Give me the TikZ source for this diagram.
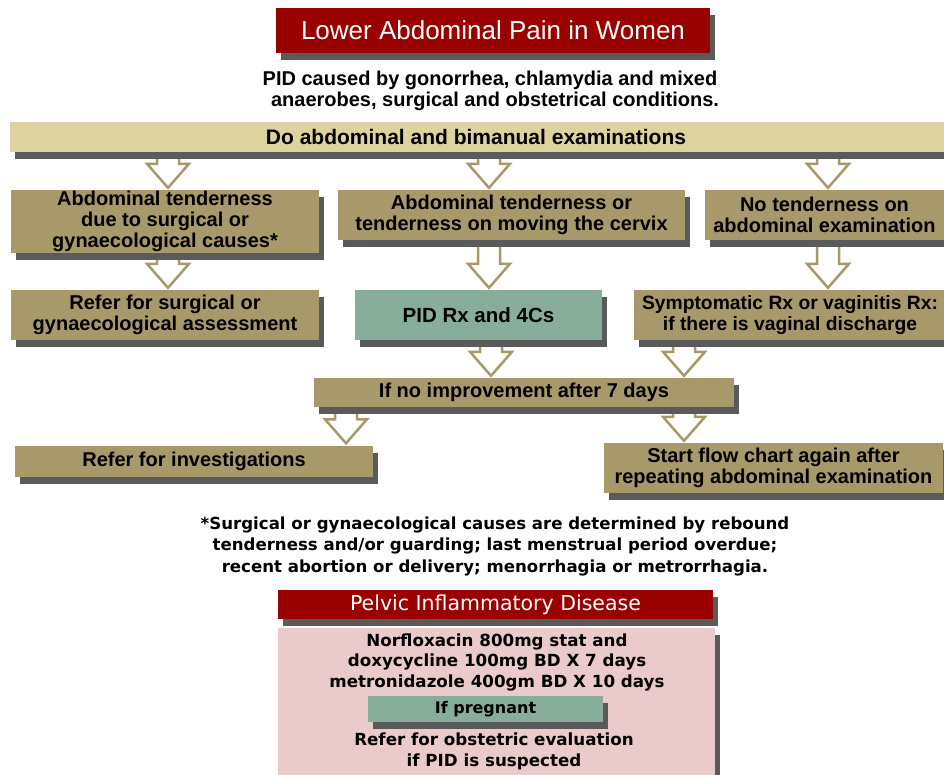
\documentclass[tikz,border=0pt]{standalone}
\usepackage{fontspec}
\setmainfont{Liberation Sans}
\newfontfamily\widefont{DejaVu Sans}
\usetikzlibrary{shadows,calc,backgrounds}
\definecolor{titlered}{HTML}{990000}
\definecolor{barc}{HTML}{DDD39E}
\definecolor{boxc}{HTML}{A8996A}
\definecolor{greenc}{HTML}{86AE9A}
\definecolor{pinkc}{HTML}{EACACA}
\definecolor{arrowc}{HTML}{A8996A}
\definecolor{shadowc}{HTML}{5A5A5A}
\begin{document}
\begin{tikzpicture}[x=1pt,y=-1pt,
  shad/.style={drop shadow={shadow xshift=5pt,shadow yshift=-7pt,fill=shadowc,opacity=1}},
  basebox/.style={shad,inner sep=0pt,align=center,text=black},
  fbox/.style={basebox,fill=boxc,font=\bfseries\fontsize{20}{21}\selectfont},
  gbox/.style={basebox,fill=greenc},
  redbox/.style={basebox,fill=titlered,text=white},
  plain/.style={inner sep=0pt,align=center},
  hollow/.style={draw=arrowc,fill=white,line width=2.5pt,line join=miter,
    to path={let \p1=(\tikztostart), \p2=(\tikztotarget) in
      (\x1-11pt,\y1) -- (\x1-11pt,\y2+24pt) -- (\x1-21pt,\y2+24pt) -- (\x1,\y2)
      -- (\x1+21pt,\y2+24pt) -- (\x1+11pt,\y2+24pt) -- (\x1+11pt,\y1)}}
]
\useasboundingbox (0,0) rectangle (944,774);

% title
\node[redbox,minimum width=434pt,minimum height=45pt,font=\fontsize{26}{28}\selectfont] (title) at (493,30.5) {Lower Abdominal Pain in Women};
\node[plain,font=\bfseries\fontsize{20}{21}\selectfont] (sub) at (490,91) {PID caused by gonorrhea, chlamydia and mixed\\\hspace*{10pt}anaerobes, surgical and obstetrical conditions.};

% exam bar
\node[basebox,fill=barc,minimum width=934pt,minimum height=30pt,font=\bfseries\fontsize{21}{22}\selectfont] (bar) at (477,137) {\hspace*{-2pt}Do abdominal and bimanual examinations};

% row 2
\node[fbox,minimum width=308pt,minimum height=63pt] (l2) at (165,221.5) {Abdominal tenderness\\due to surgical or\\gynaecological causes*};
\node[fbox,minimum width=347pt,minimum height=50pt] (m2) at (511.5,215) {Abdominal tenderness or\\tenderness on moving the cervix};
\node[fbox,minimum width=239pt,minimum height=50pt] (r2) at (824.5,215) {No tenderness on\\abdominal examination};

% row 3
\node[fbox,minimum width=308pt,minimum height=50pt] (l3) at (165,315) {Refer for surgical or\\gynaecological assessment};
\node[gbox,minimum width=247pt,minimum height=50pt,font=\bfseries\fontsize{20.5}{22}\selectfont] (m3) at (478.5,315) {PID Rx and 4Cs};
\node[fbox,minimum width=326pt,minimum height=50pt] (r3) at (797,315) {};
\node[plain,font=\bfseries\fontsize{19.3}{21}\selectfont] (r3t) at (790,315) {Symptomatic Rx or vaginitis Rx:\\if there is vaginal discharge};

% row 4
\node[fbox,minimum width=420pt,minimum height=29pt] (m4) at (524,392.5) {If no improvement after 7 days};

% row 5
\node[fbox,minimum width=358pt,minimum height=31pt] (l5) at (194,461) {Refer for investigations};
\node[fbox,minimum width=339pt,minimum height=50pt] (r5) at (773.5,468) {Start flow chart again after\\repeating abdominal examination};

% footnote
\node[plain,font=\widefont\bfseries\fontsize{16.6}{21.5}\selectfont] (foot) at (495,546) {*Surgical or gynaecological causes are determined by rebound\\tenderness and/or guarding; last menstrual period overdue;\\recent abortion or delivery; menorrhagia or metrorrhagia.};

% PID box
\node[redbox,minimum width=435pt,minimum height=29pt,font=\widefont\fontsize{20.5}{22}\selectfont] (pidt) at (495.5,604.5) {Pelvic Inflammatory Disease};
\node[basebox,fill=pinkc,minimum width=437pt,minimum height=170pt,anchor=north] (pink) at (496.5,628) {};
\node[plain,font=\widefont\bfseries\fontsize{16.7}{20.5}\selectfont] (drugs) at (497,662) {Norfloxacin 800mg stat and\\doxycycline 100mg BD X 7 days\\metronidazole 400gm BD X 10 days};
\node[gbox,minimum width=235pt,minimum height=26pt,font=\widefont\bfseries\fontsize{16}{17}\selectfont] (preg) at (485.5,709) {If pregnant};
\node[plain,font=\widefont\bfseries\fontsize{16.7}{20.5}\selectfont] (obst) at (494,751.5) {Refer for obstetric evaluation\\if PID is suspected};

% arrow positions
\coordinate (ax1) at (168,0);
\coordinate (ax2) at (489,0);
\coordinate (ax3) at (828,0);
\coordinate (ax4) at (491,0);
\coordinate (ax5) at (684,0);
\coordinate (ax6) at (346,0);

\begin{pgfonlayer}{background}
\fill[white] (0,0) rectangle (944,774);
\draw[hollow] (bar.south -| ax1) to ($(l2.north -| ax1)+(0,-2)$);
\draw[hollow] (bar.south -| ax2) to ($(m2.north -| ax2)+(0,-2)$);
\draw[hollow] (bar.south -| ax3) to ($(r2.north -| ax3)+(0,-2)$);
\draw[hollow] (l2.south -| ax1) to ($(l3.north -| ax1)+(0,-2)$);
\draw[hollow] (m2.south -| ax2) to ($(m3.north -| ax2)+(0,-2)$);
\draw[hollow] (r2.south -| ax3) to ($(r3.north -| ax3)+(0,-2)$);
\draw[hollow] (m3.south -| ax4) to ($(m4.north -| ax4)+(0,-2)$);
\draw[hollow] (r3.south -| ax5) to ($(m4.north -| ax5)+(0,-2)$);
\draw[hollow] (m4.south -| ax6) to ($(l5.north -| ax6)+(0,-2)$);
\draw[hollow] (m4.south -| ax5) to ($(r5.north -| ax5)+(0,-2)$);
\end{pgfonlayer}
\end{tikzpicture}
\end{document}
